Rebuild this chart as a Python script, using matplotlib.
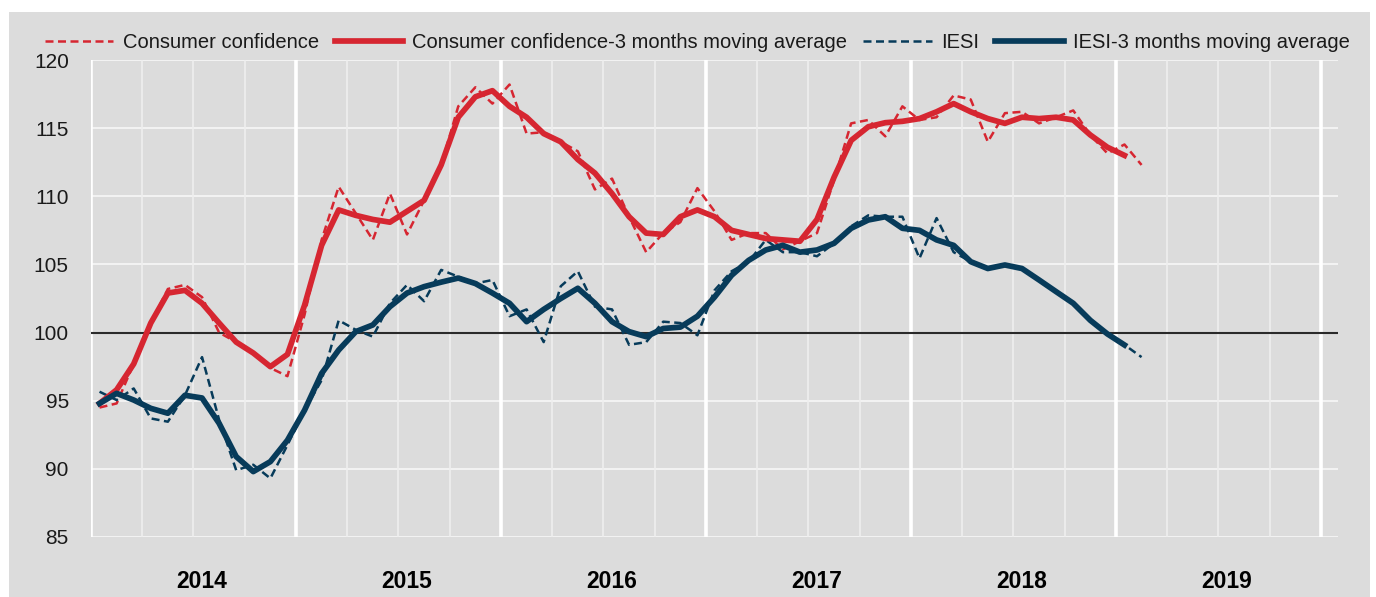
import matplotlib
matplotlib.use("Agg")
import matplotlib.pyplot as plt
from matplotlib.patches import Rectangle
from matplotlib import font_manager
import numpy as np

# ---------------- data (monthly, starting Jan 2014) ----------------
consumer_conf = [94.5, 94.8, 97.7, 100.7, 103.2, 103.5, 102.6, 100.0, 99.3, 98.5, 97.4, 96.8,
                 101.3, 106.8, 110.7, 108.75, 106.8, 110.2, 107.2, 109.7, 112.3, 116.6, 118.0, 116.8,
                 118.2, 114.6, 114.7, 114.0, 113.3, 110.5, 111.3, 108.5, 105.9, 107.3, 108.1, 110.6,
                 108.9, 106.8, 107.3, 107.3, 106.1, 106.7, 107.3, 111.2, 115.35, 115.6, 114.4, 116.6,
                 115.6, 115.8, 117.4, 117.1, 114.0, 116.1, 116.2, 115.35, 115.8, 116.3, 114.5, 113.15,
                 113.8, 112.3]
consumer_conf_ma = [94.8, 95.8, 97.7, 100.7, 102.9, 103.1, 102.15, 100.7, 99.3, 98.5, 97.5, 98.4,
                    102.0, 106.4, 109.0, 108.6, 108.3, 108.1, 108.9, 109.7, 112.3, 115.8, 117.3, 117.75,
                    116.6, 115.8, 114.6, 114.0, 112.7, 111.7, 110.2, 108.5, 107.3, 107.2, 108.5, 109.0,
                    108.5, 107.5, 107.2, 106.9, 106.8, 106.7, 108.3, 111.4, 114.1, 115.1, 115.4, 115.5,
                    115.7, 116.2, 116.8, 116.2, 115.7, 115.35, 115.8, 115.7, 115.8, 115.6, 114.5, 113.6,
                    113.0]
iesi = [95.66, 95.05, 95.9, 93.7, 93.46, 95.4, 98.2, 93.6, 89.9, 90.3, 89.3, 91.75,
        94.3, 96.5, 100.9, 100.2, 99.7, 102.15, 103.5, 102.3, 104.6, 104.1, 103.6, 103.86,
        101.2, 101.7, 99.3, 103.4, 104.5, 101.9, 101.7, 99.1, 99.3, 100.8, 100.7, 99.8,
        103.1, 104.5, 105.2, 106.8, 105.9, 105.9, 105.6, 106.55, 107.8, 108.6, 108.5, 108.5,
        105.45, 108.4, 105.9, 105.2, 104.7, 105.0, 104.7, 103.9, 103.0, 102.15, 100.9, 99.9,
        99.1, 98.2]
iesi_ma = [94.8, 95.54, 95.05, 94.44, 94.08, 95.4, 95.2, 93.34, 90.9, 89.8, 90.53, 92.1,
           94.3, 97.0, 98.72, 100.07, 100.56, 101.9, 102.9, 103.37, 103.7, 104.0, 103.6, 102.9,
           102.15, 100.8, 101.7, 102.5, 103.25, 102.15, 100.8, 100.07, 99.7, 100.3, 100.4, 101.2,
           102.6, 104.2, 105.3, 106.06, 106.4, 105.9, 106.06, 106.55, 107.65, 108.26, 108.5, 107.65,
           107.5, 106.8, 106.4, 105.2, 104.7, 104.96, 104.7, 103.86, 103.0, 102.15, 100.9, 99.9,
           99.09]
years = ["2014", "2015", "2016", "2017", "2018", "2019"]
series_labels = ["Consumer confidence", "Consumer confidence-3 months moving average",
                 "IESI", "IESI-3 months moving average"]
y_ticks = [85, 90, 95, 100, 105, 110, 115, 120]

# ---------------- font choice ----------------
def have(family):
    try:
        font_manager.findfont(font_manager.FontProperties(family=family),
                              fallback_to_default=False)
        return True
    except Exception:
        return False

if have("Liberation Sans Narrow"):
    FONT = ["Liberation Sans Narrow", "DejaVu Sans"]
    FS, FS_TICK, FS_YEAR = 17.5, 18, 20
else:
    FONT = ["Liberation Sans", "DejaVu Sans"]
    FS, FS_TICK, FS_YEAR = 14.5, 15, 16.5
plt.rcParams["font.family"] = FONT

# ---------------- style ----------------
RED = "#d62631"
BLUE = "#073b5a"
BG = "#dcdcdc"

W, H = 1376, 597
fig = plt.figure(figsize=(W / 100, H / 100), dpi=100)
fig.patch.set_facecolor("white")
fig.patches.append(Rectangle((9 / W, 0), (1370 - 9) / W, 1 - 12 / H,
                             transform=fig.transFigure, facecolor=BG, edgecolor="none",
                             zorder=-10))

ax = fig.add_axes([91 / W, 1 - 537 / H, (1338 - 91) / W, (537 - 60) / H])
ax.set_zorder(1)
ax.set_facecolor(BG)

n_months = 12 * len(years)
ax.set_xlim(-0.5, n_months + 0.5)
ax.set_ylim(85, 120)

# grid
ax.set_yticks(y_ticks)
for yv in y_ticks:
    ax.axhline(yv, color="#f3f3f3", lw=1.4, zorder=1)
for q in np.arange(2.5, n_months, 3):
    if (q + 0.5) % 12 != 0:
        ax.axvline(q, color="#efefef", lw=1.2, zorder=1)
for b in np.arange(-0.5, n_months, 12):
    ax.axvline(b, color="white", lw=2.6, zorder=1.5)
ax.axhline(100, color="#2a2a2a", lw=1.5, zorder=2)

x_cc = np.arange(len(consumer_conf))
x_ccma = np.arange(len(consumer_conf_ma))
x_ie = np.arange(len(iesi))
x_iema = np.arange(len(iesi_ma))

dash = (0, (3.2, 1.8))
l1, = ax.plot(x_cc, consumer_conf, color=RED, lw=1.8, ls=dash, zorder=3)
l2, = ax.plot(x_ccma, consumer_conf_ma, color=RED, lw=4.1, zorder=4, solid_joinstyle="round")
l3, = ax.plot(x_ie, iesi, color=BLUE, lw=1.8, ls=dash, zorder=3)
l4, = ax.plot(x_iema, iesi_ma, color=BLUE, lw=4.1, zorder=4, solid_joinstyle="round")

for s in ax.spines.values():
    s.set_visible(False)

ax.set_yticklabels([str(v) for v in y_ticks], fontsize=FS_TICK, color="#1a1a1a")
ax.tick_params(axis="y", length=0, pad=16)
ax.set_xticks([12 * k + 6 for k in range(len(years))])
ax.set_xticklabels(years, fontsize=FS_YEAR, fontweight="bold", color="black")
ax.tick_params(axis="x", length=0, pad=24)

leg = fig.legend([l1, l2, l3, l4], series_labels, loc="center left",
                 bbox_to_anchor=(45 / W, 1 - 43 / H), ncol=4, frameon=False,
                 fontsize=FS, handlelength=3.4, handletextpad=0.45, columnspacing=0.8,
                 borderaxespad=0, borderpad=0)
for t in leg.get_texts():
    t.set_color("#1a1a1a")

fig.savefig("out.png", dpi=100, facecolor=fig.get_facecolor())
